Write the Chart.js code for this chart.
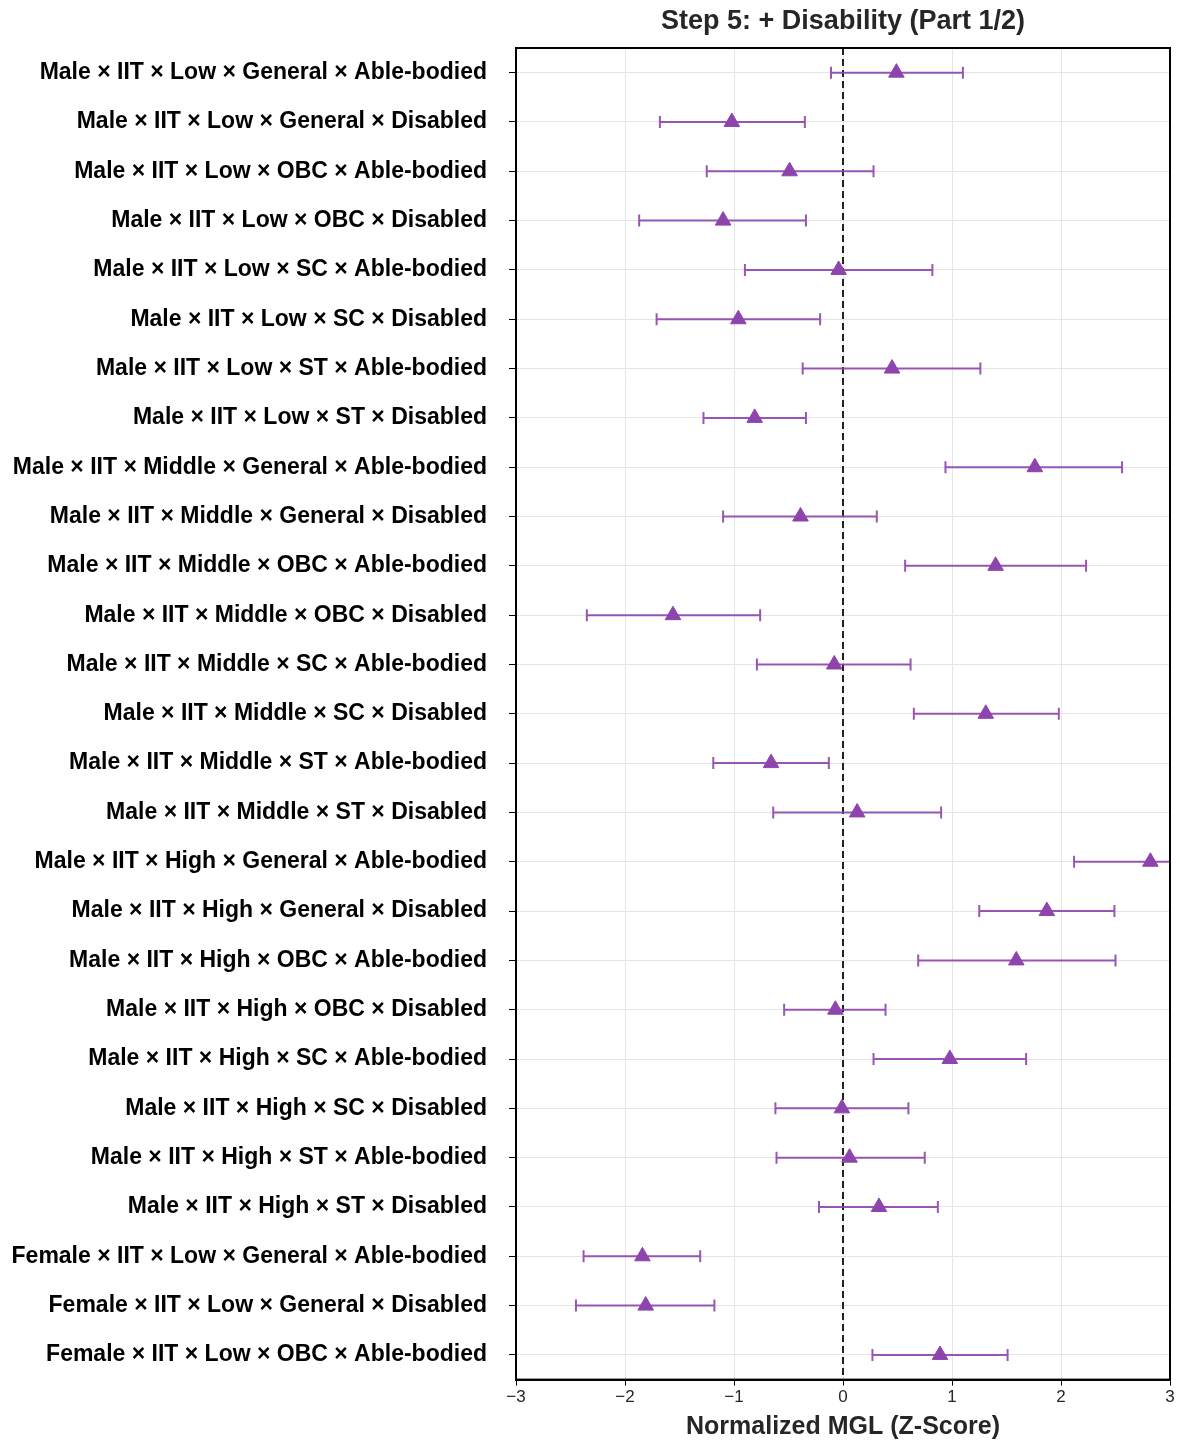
<!DOCTYPE html>
<html>
<head>
<meta charset="utf-8">
<script src="https://cdn.jsdelivr.net/npm/chart.js@4.4.1/dist/chart.umd.min.js"></script>
<style>
    html, body { margin: 0; padding: 0; background: #fff; }
    #wrap { width: 1180px; height: 1442px; position: relative; }
</style>
</head>
<body>
<div id="wrap"><canvas id="forest"></canvas></div>
<script>
const groupLabels = [
    'Male × IIT × Low × General × Able-bodied',
    'Male × IIT × Low × General × Disabled',
    'Male × IIT × Low × OBC × Able-bodied',
    'Male × IIT × Low × OBC × Disabled',
    'Male × IIT × Low × SC × Able-bodied',
    'Male × IIT × Low × SC × Disabled',
    'Male × IIT × Low × ST × Able-bodied',
    'Male × IIT × Low × ST × Disabled',
    'Male × IIT × Middle × General × Able-bodied',
    'Male × IIT × Middle × General × Disabled',
    'Male × IIT × Middle × OBC × Able-bodied',
    'Male × IIT × Middle × OBC × Disabled',
    'Male × IIT × Middle × SC × Able-bodied',
    'Male × IIT × Middle × SC × Disabled',
    'Male × IIT × Middle × ST × Able-bodied',
    'Male × IIT × Middle × ST × Disabled',
    'Male × IIT × High × General × Able-bodied',
    'Male × IIT × High × General × Disabled',
    'Male × IIT × High × OBC × Able-bodied',
    'Male × IIT × High × OBC × Disabled',
    'Male × IIT × High × SC × Able-bodied',
    'Male × IIT × High × SC × Disabled',
    'Male × IIT × High × ST × Able-bodied',
    'Male × IIT × High × ST × Disabled',
    'Female × IIT × Low × General × Able-bodied',
    'Female × IIT × Low × General × Disabled',
    'Female × IIT × Low × OBC × Able-bodied'
];

const meanZ = [0.49, -1.02, -0.49, -1.10, -0.04, -0.96, 0.45, -0.81, 1.76, -0.39,
    1.40, -1.56, -0.08, 1.31, -0.66, 0.13, 2.82, 1.87, 1.59, -0.07,
    0.98, -0.01, 0.06, 0.33, -1.84, -1.81, 0.89];
const lowerZ = [-0.11, -1.68, -1.25, -1.87, -0.90, -1.71, -0.37, -1.28, 0.94, -1.10,
    0.57, -2.35, -0.79, 0.65, -1.19, -0.64, 2.12, 1.25, 0.69, -0.54,
    0.28, -0.62, -0.61, -0.22, -2.38, -2.45, 0.27];
const upperZ = [1.10, -0.35, 0.28, -0.34, 0.82, -0.21, 1.26, -0.34, 2.56, 0.31,
    2.23, -0.76, 0.62, 1.98, -0.13, 0.90, 3.52, 2.49, 2.50, 0.39,
    1.68, 0.60, 0.75, 0.87, -1.31, -1.18, 1.51];

const xTicks = [-3, -2, -1, 0, 1, 2, 3];

const purple = 'rgb(142, 68, 173)';
const fontFam = '"Liberation Sans", Arial, sans-serif';

// error bars, zero line, frame and title
const extrasPlugin = {
    id: 'extras',
    beforeDatasetsDraw(chart) {
        const { ctx, chartArea, scales } = chart;
        const x = scales.x, y = scales.y;
        ctx.save();
        ctx.beginPath();
        ctx.rect(chartArea.left, chartArea.top, chartArea.right - chartArea.left, chartArea.bottom - chartArea.top);
        ctx.clip();

        // zero line
        const x0 = x.getPixelForValue(0);
        ctx.strokeStyle = '#222';
        ctx.lineWidth = 2;
        ctx.setLineDash([7, 4]);
        ctx.beginPath();
        ctx.moveTo(x0, chartArea.top);
        ctx.lineTo(x0, chartArea.bottom);
        ctx.stroke();
        ctx.setLineDash([]);

        ctx.strokeStyle = 'rgba(142, 68, 173, 0.9)';
        ctx.lineWidth = 2;
        groupLabels.forEach((lab, i) => {
            const py = y.getPixelForValue(i);
            const a = x.getPixelForValue(lowerZ[i]);
            const b = x.getPixelForValue(upperZ[i]);
            ctx.beginPath();
            ctx.moveTo(a, py); ctx.lineTo(b, py);
            ctx.moveTo(a, py - 6); ctx.lineTo(a, py + 6);
            ctx.moveTo(b, py - 6); ctx.lineTo(b, py + 6);
            ctx.stroke();
        });
        ctx.restore();
    },
    afterDraw(chart) {
        const { ctx, chartArea } = chart;
        ctx.save();
        ctx.strokeStyle = '#000';
        ctx.lineWidth = 2;
        ctx.strokeRect(chartArea.left, chartArea.top, chartArea.right - chartArea.left, chartArea.bottom - chartArea.top);
        ctx.fillStyle = '#262626';
        ctx.font = 'bold 27px ' + fontFam;
        ctx.textAlign = 'center';
        ctx.textBaseline = 'middle';
        ctx.fillText('Step 5: + Disability (Part 1/2)', (chartArea.left + chartArea.right) / 2, 22);
        ctx.restore();
    }
};

const ctx = document.getElementById('forest').getContext('2d');
new Chart(ctx, {
    type: 'scatter',
    data: {
        labels: groupLabels,
        datasets: [{
            data: meanZ.map((v, i) => ({ x: v, y: groupLabels[i] })),
            pointStyle: 'triangle',
            pointRadius: 9,
            pointBackgroundColor: purple,
            pointBorderColor: purple,
            pointBorderWidth: 1
        }]
    },
    options: {
        responsive: true,
        maintainAspectRatio: false,
        animation: false,
        clip: false,
        layout: { padding: { top: 48, right: 9, left: 0, bottom: 0 } },
        plugins: {
            legend: { display: false },
            tooltip: { enabled: false }
        },
        scales: {
            x: {
                type: 'linear',
                min: -3,
                max: 3,
                afterBuildTicks: axis => { axis.ticks = xTicks.map(v => ({ value: v })); },
                ticks: {
                    callback: v => String(v).replace('-', '\u2212'),
                    color: '#262626',
                    font: { family: fontFam, size: 17 },
                    padding: 2
                },
                grid: { color: '#e5e5e5', lineWidth: 1, tickColor: '#000', tickLength: 6 },
                border: { color: '#000', width: 2 },
                title: {
                    display: true,
                    text: 'Normalized MGL (Z-Score)',
                    color: '#262626',
                    font: { family: fontFam, size: 25, weight: 'bold' },
                    padding: { top: 2, bottom: 0 }
                }
            },
            y: {
                type: 'category',
                labels: groupLabels,
                offset: true,
                afterFit: axis => { axis.width = 516; },
                ticks: {
                    color: '#000',
                    font: { family: fontFam, size: 23, weight: 'bold' },
                    padding: 22,
                    autoSkip: false
                },
                grid: { offset: false, color: '#e5e5e5', lineWidth: 1, tickColor: '#000', tickLength: 7 },
                border: { color: '#000', width: 2 }
            }
        }
    },
    plugins: [extrasPlugin]
});
</script>
</body>
</html>
